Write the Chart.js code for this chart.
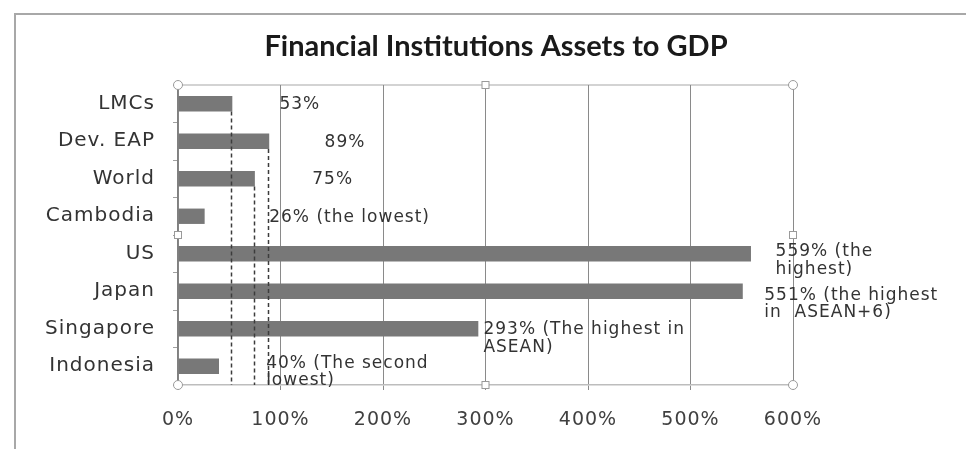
<!DOCTYPE html>
<html><head><meta charset="utf-8">
<script src="https://cdn.jsdelivr.net/npm/chart.js@4.4.0/dist/chart.umd.min.js"></script>
<style>html,body{margin:0;padding:0;background:#fff}</style>
</head><body>
<canvas id="c" width="972" height="450"></canvas>
<script>
// ---- data ----
const categories = ['LMCs', 'Dev. EAP', 'World', 'Cambodia', 'US', 'Japan', 'Singapore', 'Indonesia'];
const assetsToGdp = [53, 89, 75, 26, 559, 551, 293, 40];
const annotationTexts = [
  ['53%'], ['89%'], ['75%'], ['26% (the lowest)'],
  ['559% (the', 'highest)'], ['551% (the highest', 'in  ASEAN+6)'],
  ['293% (The highest in', 'ASEAN)'], ['40% (The second', 'lowest)']
];
const xTickValues = [0, 100, 200, 300, 400, 500, 600];
const droplineCategories = ['LMCs', 'Dev. EAP', 'World'];
const chartTitle = 'Financial Institutions Assets to GDP';

// ---- annotation placement (axis value for left edge, pixel shift of first line) ----
const annotationX = [99, 143, 131, 89, 583, 572, 298, 86];
const annotationDy = [1, 1, 1, 1, -2, 4, 1, -3];

const SPACING = '1px';
const spacingPlugin = {
  id: 'spacing',
  beforeUpdate(c) { c.ctx.letterSpacing = SPACING; },
  beforeLayout(c) { c.ctx.letterSpacing = SPACING; },
  beforeDraw(c) { c.ctx.letterSpacing = SPACING; }
};

const framePlugin = {
  id: 'frame',
  beforeDraw(c) {
    const ctx = c.ctx, a = c.chartArea;
    ctx.save();
    ctx.strokeStyle = '#a8a8a8';
    ctx.lineWidth = 2;
    ctx.beginPath();
    ctx.moveTo(15, 449); ctx.lineTo(15, 14); ctx.lineTo(966, 14);
    ctx.stroke();
    ctx.strokeStyle = '#c4c4c4';
    ctx.lineWidth = 1.5;
    ctx.beginPath();
    ctx.moveTo(a.left, a.top); ctx.lineTo(a.right, a.top);
    ctx.stroke();
    // title
    ctx.letterSpacing = '0px';
    ctx.fillStyle = '#1a1a1a';
    ctx.font = 'bold 29px Lato';
    ctx.textAlign = 'center';
    ctx.textBaseline = 'middle';
    ctx.fillText(chartTitle, 496, 47);
    ctx.restore();
  },
  afterDraw(c) {
    const ctx = c.ctx, a = c.chartArea;
    const meta = c.getDatasetMeta(0);
    ctx.save();
    // drop lines
    ctx.strokeStyle = '#3c3c3c';
    ctx.lineWidth = 1.5;
    ctx.setLineDash([4, 3]);
    droplineCategories.forEach(name => {
      const i = categories.indexOf(name);
      const bar = meta.data[i];
      const p = bar.getProps(['x', 'y', 'height'], true);
      ctx.beginPath();
      ctx.moveTo(Math.round(p.x) - 0.5, p.y + p.height / 2);
      ctx.lineTo(Math.round(p.x) - 0.5, a.bottom);
      ctx.stroke();
    });
    ctx.setLineDash([]);
    // annotations
    ctx.fillStyle = '#333333';
    ctx.font = '17px "DejaVu Sans"';
    ctx.textAlign = 'left';
    ctx.textBaseline = 'middle';
    const xs = c.scales.x, ys = c.scales.y;
    annotationTexts.forEach((lines, i) => {
      const x = xs.getPixelForValue(annotationX[i]);
      const y0 = ys.getPixelForValue(i) + annotationDy[i];
      lines.forEach((t, k) => ctx.fillText(t, x, y0 + k * 17.5));
    });
    // selection handles
    ctx.strokeStyle = '#9a9a9a';
    ctx.fillStyle = '#ffffff';
    ctx.lineWidth = 1;
    const mx = (a.left + a.right) / 2, my = (a.top + a.bottom) / 2;
    [[a.left, a.top], [a.right, a.top], [a.left, a.bottom], [a.right, a.bottom]].forEach(([x, y]) => {
      ctx.beginPath(); ctx.arc(x, y, 4.5, 0, Math.PI * 2); ctx.fill(); ctx.stroke();
    });
    [[mx, a.top], [mx, a.bottom], [a.left, my], [a.right, my]].forEach(([x, y]) => {
      ctx.fillRect(x - 3.5, y - 3.5, 7, 7); ctx.strokeRect(x - 3.5, y - 3.5, 7, 7);
    });
    ctx.restore();
  }
};

new Chart(document.getElementById('c'), {
  type: 'bar',
  data: {
    labels: categories,
    datasets: [{
      data: assetsToGdp,
      backgroundColor: '#787878',
      borderWidth: 0,
      barPercentage: 0.41,
      categoryPercentage: 1
    }]
  },
  options: {
    indexAxis: 'y',
    responsive: false,
    animation: false,
    layout: { padding: { left: 0, right: 179, top: 85, bottom: 0 } },
    plugins: {
      legend: { display: false },
      tooltip: { enabled: false },
      title: { display: false }
    },
    scales: {
      x: {
        min: 0, max: 600,
        afterBuildTicks(s) { s.ticks = xTickValues.map(v => ({ value: v })); },
        afterFit(s) { s.height = 65; },
        ticks: {
          callback: v => v + '%',
          color: '#404040',
          font: { family: 'DejaVu Sans', size: 19 },
          padding: 19,
          maxRotation: 0
        },
        grid: { color: '#8a8a8a', lineWidth: 1, tickLength: 5 },
        border: { display: true, color: '#bdbdbd', width: 1.5 }
      },
      y: {
        afterFit(s) { s.width = 178; },
        ticks: {
          color: '#333333',
          font: { family: 'DejaVu Sans', size: 20 },
          padding: 18
        },
        grid: { drawOnChartArea: false, tickLength: 5, color: '#a0a0a0', offset: true },
        border: { color: '#808080', width: 1.5 }
      }
    }
  },
  plugins: [spacingPlugin, framePlugin]
});
</script>
</body></html>
